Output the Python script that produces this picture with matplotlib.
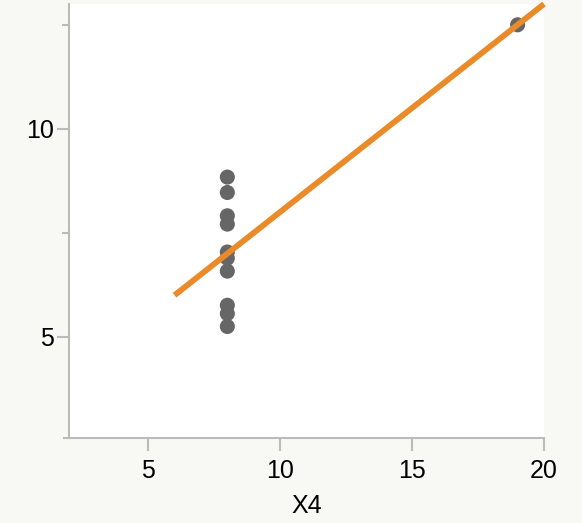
import numpy as np
import matplotlib.pyplot as plt

plt.rcParams['font.family'] = ['Liberation Sans', 'DejaVu Sans']

x4 = [8, 8, 8, 8, 8, 8, 8, 19, 8, 8, 8]
y4 = [6.58, 5.76, 7.71, 8.84, 8.47, 7.04, 5.25, 12.50, 5.56, 7.91, 6.89]
fit_x = [6, 20]

slope, intercept = np.polyfit(x4, y4, 1)
fit_y = [intercept + slope * v for v in fit_x]

fig = plt.figure(figsize=(5.82, 5.23), dpi=100, facecolor='#f8f8f4')
ax = fig.add_axes([69/582, 85/523, 475/582, 434/523])
ax.set_facecolor('white')

ax.scatter(x4, y4, s=118, color='#666666', edgecolors='none', zorder=2)
ax.plot(fit_x, fit_y, color='#ea8b2a', lw=4.2, solid_capstyle='butt', zorder=3, clip_on=False)

ax.set_xlim(2, 20)
ax.set_ylim(2.57, 13.0)
ax.set_xticks([5, 10, 15, 20])
ax.set_yticks([5, 10])
ax.set_yticks([7.5, 12.5], minor=True)
ax.set_xlabel('X4', fontsize=18, labelpad=8)

for s in ['top', 'right']:
    ax.spines[s].set_visible(False)
for s in ['left', 'bottom']:
    ax.spines[s].set_color('#bbbbbb')
    ax.spines[s].set_linewidth(1.5)
ax.spines['bottom'].set_bounds(1.8, 20)

ax.tick_params(axis='both', which='major', color='#bbbbbb', width=1.5, length=9,
               labelsize=18, pad=2)
ax.tick_params(axis='y', which='minor', color='#bbbbbb', width=1.5, length=5)
ax.tick_params(axis='x', which='major', length=9, pad=6)
ax.spines['bottom'].set_clip_on(False)

fig.savefig('out.png', dpi=100, facecolor=fig.get_facecolor())
